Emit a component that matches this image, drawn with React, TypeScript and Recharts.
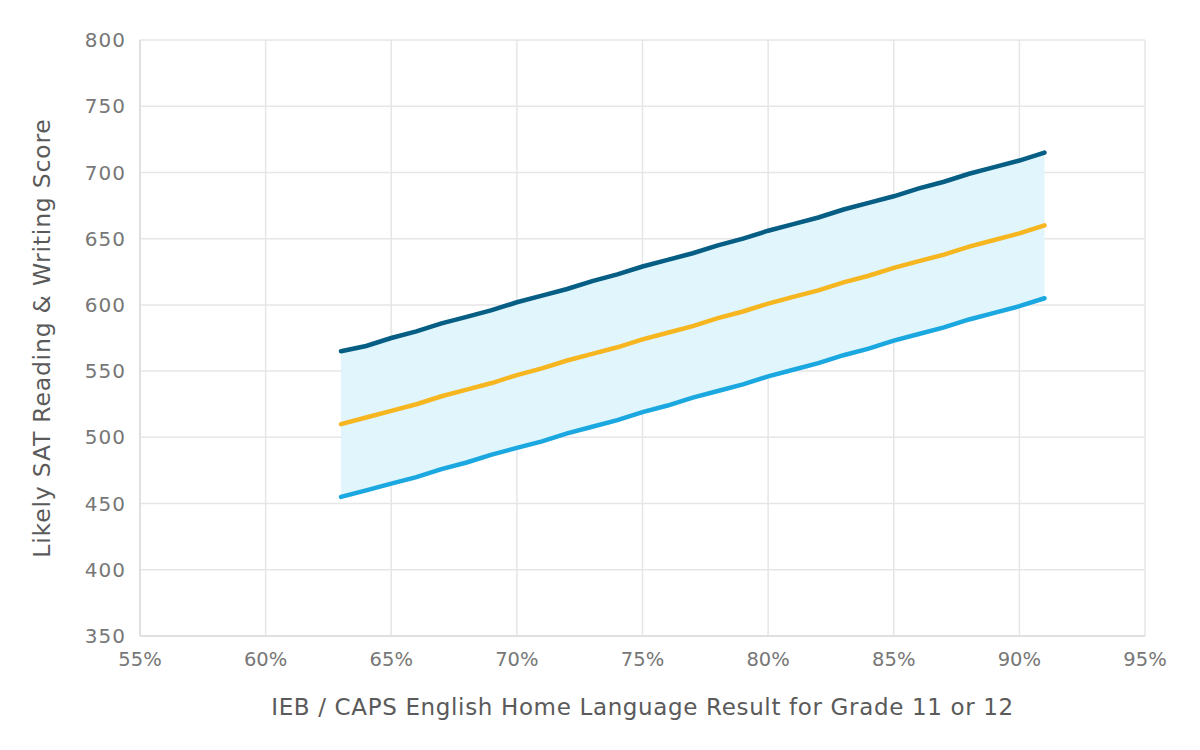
import React from 'react';
import { ComposedChart, Line, Area, XAxis, YAxis, CartesianGrid, Label } from 'recharts';

const results = [63, 64, 65, 66, 67, 68, 69, 70, 71, 72, 73, 74, 75, 76, 77, 78, 79, 80, 81, 82, 83, 84, 85, 86, 87, 88, 89, 90, 91];
const upper = [565, 569, 575, 580, 586, 591, 596, 602, 607, 612, 618, 623, 629, 634, 639, 645, 650, 656, 661, 666, 672, 677, 682, 688, 693, 699, 704, 709, 715];
const middle = [510, 515, 520, 525, 531, 536, 541, 547, 552, 558, 563, 568, 574, 579, 584, 590, 595, 601, 606, 611, 617, 622, 628, 633, 638, 644, 649, 654, 660];
const lower = [455, 460, 465, 470, 476, 481, 487, 492, 497, 503, 508, 513, 519, 524, 530, 535, 540, 546, 551, 556, 562, 567, 573, 578, 583, 589, 594, 599, 605];

const xTicks = [55, 60, 65, 70, 75, 80, 85, 90, 95];
const yTicks = [350, 400, 450, 500, 550, 600, 650, 700, 750, 800];

const data = results.map((x, i) => ({
  x,
  upper: upper[i],
  middle: middle[i],
  lower: lower[i],
  range: [lower[i], upper[i]],
}));

const FONT = '"DejaVu Sans", "Open Sans", sans-serif';
const xTickStyle = { fill: '#777', fontSize: 19.5, fontFamily: FONT };
const yTickStyle = { fill: '#777', fontSize: 20, fontFamily: FONT, letterSpacing: 1 };

const YLabel = (props: any) => {
  const vb = props.viewBox || { x: 0, y: 0, width: 0, height: 0 };
  const cx = 42;
  const cy = vb.y + vb.height / 2;
  return (
    <text
      x={cx}
      y={cy}
      transform={`rotate(-90, ${cx}, ${cy})`}
      textAnchor="middle"
      dominantBaseline="central"
      fill="#5a5a5a"
      fontSize={23.5}
      letterSpacing={0.8}
      fontFamily={FONT}
    >
      Likely SAT Reading &amp; Writing Score
    </text>
  );
};

export default function App() {
  return (
    <div style={{ position: 'absolute', left: 0, top: 0, width: 1200, height: 750, background: '#fff' }}>
      <ComposedChart width={1200} height={750} data={data} margin={{ top: 40, right: 55, bottom: 0, left: 0 }}>
        <CartesianGrid stroke="#e6e6e6" strokeWidth={1.5} />
        <XAxis
          dataKey="x"
          type="number"
          domain={[55, 95]}
          ticks={xTicks}
          tickFormatter={(v: number) => `${v}%`}
          tickSize={0}
          tickMargin={16}
          height={114}
          axisLine={{ stroke: '#dcdcdc', strokeWidth: 1.5 }}
          tick={xTickStyle}
          label={{
            value: 'IEB / CAPS English Home Language Result for Grade 11 or 12',
            position: 'insideBottom',
            offset: 35,
            style: { fill: '#5a5a5a', fontSize: 23, fontFamily: FONT, letterSpacing: 0.65 },
          }}
        />
        <YAxis
          type="number"
          domain={[350, 800]}
          ticks={yTicks}
          tickSize={0}
          tickMargin={14}
          width={140}
          axisLine={{ stroke: '#dcdcdc', strokeWidth: 1.5 }}
          tick={yTickStyle}
        >
          <Label content={YLabel} />
        </YAxis>
        <Area
          type="linear"
          dataKey="range"
          fill="#e1f5fc"
          fillOpacity={1}
          stroke="none"
          isAnimationActive={false}
          activeDot={false}
        />
        <Line type="linear" dataKey="lower" stroke="#1ba8e0" strokeWidth={4.5} dot={false} strokeLinecap="round" isAnimationActive={false} />
        <Line type="linear" dataKey="middle" stroke="#f6b620" strokeWidth={4.5} dot={false} strokeLinecap="round" isAnimationActive={false} />
        <Line type="linear" dataKey="upper" stroke="#065e84" strokeWidth={4.5} dot={false} strokeLinecap="round" isAnimationActive={false} />
      </ComposedChart>
    </div>
  );
}
